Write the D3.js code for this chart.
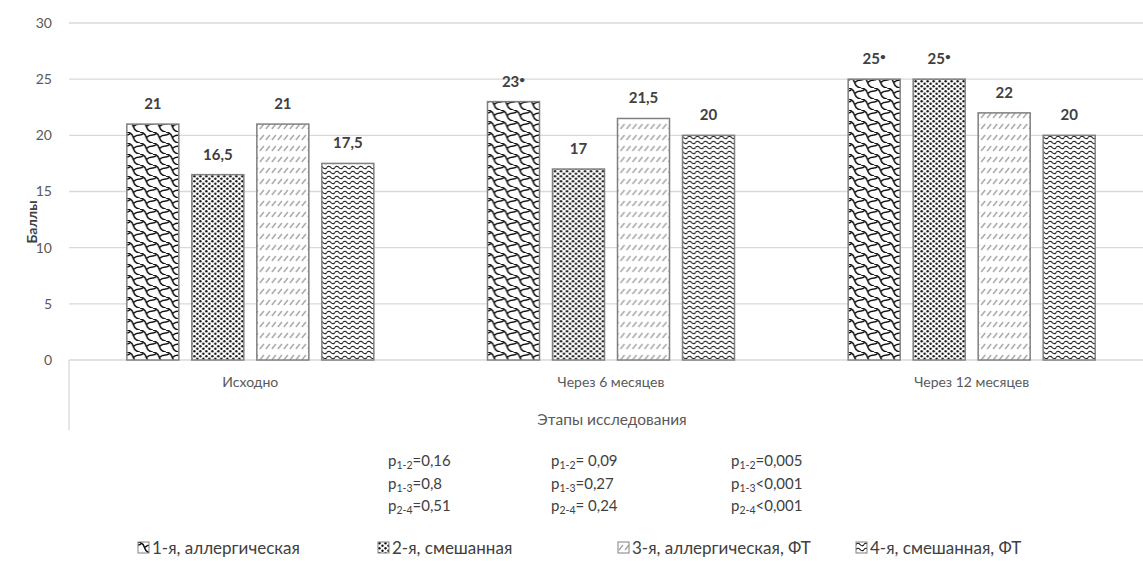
<!DOCTYPE html>
<html><head><meta charset="utf-8">
<script src="https://cdn.jsdelivr.net/npm/d3@7"></script>
<style>body{margin:0;background:#fff}svg{display:block}text{font-family:Lato,"Open Sans",sans-serif}</style>
</head><body><svg id="c" width="1143" height="561"></svg>
<script>
const categories = ["Исходно", "Через 6 месяцев", "Через 12 месяцев"];
const seriesNames = ["1-я, аллергическая", "2-я, смешанная", "3-я, аллергическая, ФТ", "4-я, смешанная, ФТ"];
const values1 = [21, 23, 25];
const values2 = [16.5, 17, 25];
const values3 = [21, 21.5, 22];
const values4 = [17.5, 20, 20];
const stars1 = [false, true, true];
const stars2 = [false, false, true];
const stars3 = [false, false, false];
const stars4 = [false, false, false];
const yTicks = [0, 5, 10, 15, 20, 25, 30];
const pLabels = ["1-2", "1-3", "2-4"];
const pCol1 = ["=0,16", "=0,8", "=0,51"];
const pCol2 = ["= 0,09", "=0,27", "= 0,24"];
const pCol3 = ["=0,005", "<0,001", "<0,001"];
const yTitle = "Баллы";
const xTitle = "Этапы исследования";

const seriesVals = [values1, values2, values3, values4];
const seriesStars = [stars1, stars2, stars3, stars4];
const fmt = v => String(v).replace(".", ",");

const svg = d3.select("#c");
const defs = svg.append("defs");
// pattern 1: shingle
const p1 = defs.append("pattern").attr("id", "pat0").attr("patternUnits", "userSpaceOnUse").attr("width", 13).attr("height", 11);
p1.append("rect").attr("width", 13).attr("height", 11).attr("fill", "#fff");
p1.append("path").attr("d", "M-1,0 Q5,0 6.5,5.5 Q8,11 14,11 M6.5,5.5 Q9,3 13,3 M-0.5,3 Q2,3 3,2").attr("fill", "none").attr("stroke", "#111").attr("stroke-width", 1.6);
// pattern 2: dots
const p2 = defs.append("pattern").attr("id", "pat1").attr("patternUnits", "userSpaceOnUse").attr("width", 6).attr("height", 5);
p2.append("rect").attr("width", 6).attr("height", 5).attr("fill", "#fff");
p2.append("circle").attr("cx", 1.5).attr("cy", 1.2).attr("r", 1.2).attr("fill", "#111");
p2.append("circle").attr("cx", 4.5).attr("cy", 3.7).attr("r", 1.2).attr("fill", "#111");
// pattern 3: dashed diagonals
const p3 = defs.append("pattern").attr("id", "pat2").attr("patternUnits", "userSpaceOnUse").attr("width", 6).attr("height", 11);
p3.append("rect").attr("width", 6).attr("height", 11).attr("fill", "#fff");
p3.append("line").attr("x1", 1).attr("y1", 8).attr("x2", 5).attr("y2", 3).attr("stroke", "#a0a0a0").attr("stroke-width", 1.3);
// pattern 4: waves
const p4 = defs.append("pattern").attr("id", "pat3").attr("patternUnits", "userSpaceOnUse").attr("width", 8).attr("height", 5);
p4.append("rect").attr("width", 8).attr("height", 5).attr("fill", "#fff");
p4.append("path").attr("d", "M0,2.5 Q2,0 4,2.5 T8,2.5").attr("fill", "none").attr("stroke", "#111").attr("stroke-width", 1.2);

const x0 = d3.scaleBand().domain(categories).range([70, 1152]);
const x1 = d3.scaleBand().domain(d3.range(4)).range([0, 247]).paddingInner(0.2);
const y = d3.scaleLinear().domain([0, 30]).range([360, 23]);

// grid
svg.append("g").selectAll("line").data(yTicks).join("line")
  .attr("x1", 69).attr("x2", 1143).attr("y1", d => y(d)).attr("y2", d => y(d))
  .attr("stroke", "#d9d9d9").attr("stroke-width", 1.3);
// y tick labels
svg.append("g").selectAll("text").data(yTicks).join("text")
  .attr("x", 52).attr("y", d => y(d)).attr("dy", "0.35em").attr("text-anchor", "end")
  .attr("font-size", 14).attr("fill", "#595959").text(d => d);
// category axis left separator
svg.append("line").attr("x1", 69).attr("x2", 69).attr("y1", 360).attr("y2", 430).attr("stroke", "#d9d9d9").attr("stroke-width", 1.3);

// bars
const groups = svg.append("g").selectAll("g").data(categories).join("g")
  .attr("transform", c => `translate(${x0(c) + x0.bandwidth() / 2 - 123.5},0)`);
groups.each(function(c, ci) {
  const g = d3.select(this);
  const data = seriesVals.map((vals, si) => ({ si, v: vals[ci], star: seriesStars[si][ci] }));
  g.selectAll("rect").data(data).join("rect")
    .attr("x", d => x1(d.si)).attr("width", x1.bandwidth())
    .attr("y", d => y(d.v)).attr("height", d => y(0) - y(d.v))
    .attr("fill", d => `url(#pat${d.si})`).attr("stroke", "#808080").attr("stroke-width", 1.5);
  const t = g.selectAll("text").data(data).join("text")
    .attr("x", d => x1(d.si) + x1.bandwidth() / 2).attr("y", d => y(d.v) - 15)
    .attr("text-anchor", "middle").attr("font-size", 15).attr("font-weight", "bold").attr("fill", "#404040");
  t.append("tspan").text(d => fmt(d.v));
  t.filter(d => d.star).append("tspan").attr("dy", -4).attr("font-size", 10).text("•");
});

// category labels
svg.append("g").selectAll("text").data(categories).join("text")
  .attr("x", c => x0(c) + x0.bandwidth() / 2).attr("y", 387).attr("text-anchor", "middle")
  .attr("font-size", 14).attr("fill", "#595959").text(c => c);
svg.append("text").attr("x", 612).attr("y", 425).attr("text-anchor", "middle")
  .attr("font-size", 15.5).attr("fill", "#595959").text(xTitle);
svg.append("text").attr("transform", "translate(37,222) rotate(-90)").attr("text-anchor", "middle")
  .attr("font-size", 14).attr("font-weight", "bold").attr("fill", "#404040").text(yTitle);

// p-values
const pcols = [{ x: 388, vals: pCol1 }, { x: 551, vals: pCol2 }, { x: 731, vals: pCol3 }];
pcols.forEach(col => {
  col.vals.forEach((v, i) => {
    const t = svg.append("text").attr("x", col.x).attr("y", 466 + i * 22.5)
      .attr("font-size", 15).attr("fill", "#404040");
    t.append("tspan").text("p");
    t.append("tspan").attr("font-size", 10.5).attr("dy", 3).text(pLabels[i]);
    t.append("tspan").attr("dy", -3).text(v);
  });
});

// legend
const legX = [138, 378, 618, 856];
const leg = svg.append("g").selectAll("g").data(seriesNames).join("g")
  .attr("transform", (d, i) => `translate(${legX[i]},542)`);
leg.append("rect").attr("width", 11).attr("height", 11).attr("fill", (d, i) => `url(#pat${i})`)
  .attr("stroke", "#808080").attr("stroke-width", 1);
leg.append("text").attr("x", 14).attr("y", 6).attr("dy", "0.35em").attr("font-size", 17)
  .attr("fill", "#404040").text(d => d);
</script></body></html>
